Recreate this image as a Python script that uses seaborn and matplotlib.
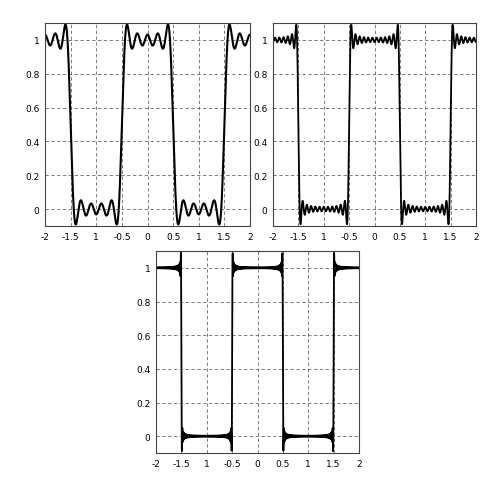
import numpy as np
import pandas as pd
import matplotlib
matplotlib.use("Agg")
import matplotlib.pyplot as plt
import seaborn as sns

# Number of odd harmonics in each partial Fourier sum of the square wave
harmonics = [5, 12, 50]
panel_names = ["top_left", "top_right", "bottom"]
x_ticks = [-2, -1.5, -1, -0.5, 0, 0.5, 1, 1.5, 2]
x_tick_labels = ["-2", "-1.5", "1", "-0.5", "0", "0.5", "1", "1.5", "2"]
y_ticks = [0, 0.2, 0.4, 0.6, 0.8, 1]
y_tick_labels = ["0", "0.2", "0.4", "0.6", "0.8", "1"]
x_range = (-2, 2)
y_range = (-0.1, 1.1)


def partial_sum(x, m):
    y = np.full_like(x, 0.5)
    for j in range(m):
        k = 2 * j + 1
        y += (2 / (k * np.pi)) * ((-1) ** j) * np.cos(k * np.pi * x)
    return y


sns.set_style("white")
plt.rcParams["font.family"] = ["DejaVu Sans"]

fig = plt.figure(figsize=(5.01, 4.81), dpi=100)
rects = [
    [45 / 501, 1 - 227 / 481, 205 / 501, 203 / 481],
    [273 / 501, 1 - 227 / 481, 203 / 501, 203 / 481],
    [156 / 501, 1 - 454 / 481, 203 / 501, 202 / 481],
]
samples = [3000, 3000, 2000]
widths = [1.5, 1.3, 1.3]

for rect, m, n, lw in zip(rects, harmonics, samples, widths):
    ax = fig.add_axes(rect)
    x = np.linspace(x_range[0], x_range[1], n)
    df = pd.DataFrame({"x": x, "y": partial_sum(x, m)})
    sns.lineplot(data=df, x="x", y="y", ax=ax, color="black",
                 linewidth=lw, estimator=None, sort=False)
    ax.set_xlim(*x_range)
    ax.set_ylim(*y_range)
    ax.set_xticks(x_ticks)
    ax.set_xticklabels(x_tick_labels)
    ax.set_yticks(y_ticks)
    ax.set_yticklabels(y_tick_labels)
    ax.set_xlabel("")
    ax.set_ylabel("")
    ax.grid(True, color="#666666", linestyle=(0, (4, 3)), linewidth=0.6)
    ax.tick_params(labelsize=6.5, length=0, pad=4, colors="black")
    for s in ax.spines.values():
        s.set_color("#444444")
        s.set_linewidth(0.8)

fig.savefig("out.png", dpi=100)
